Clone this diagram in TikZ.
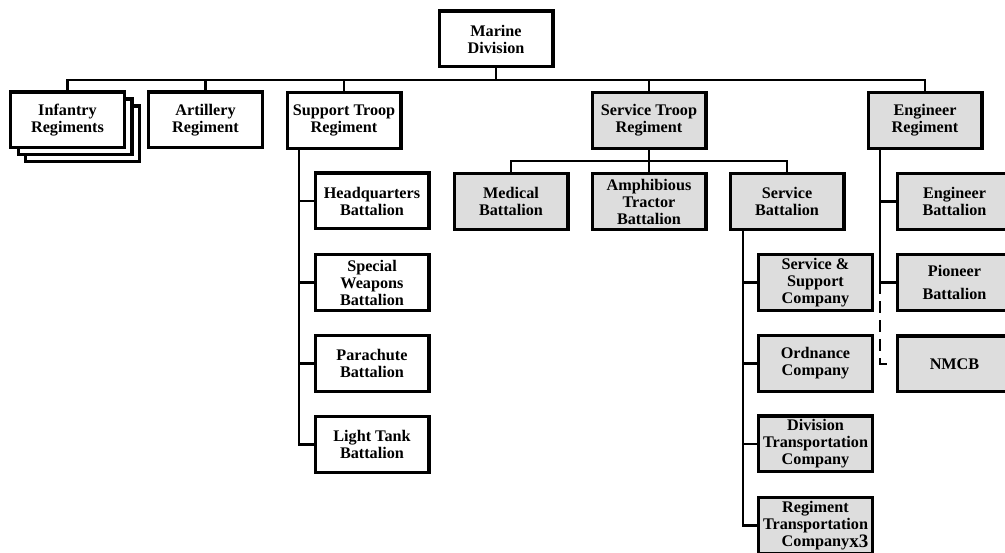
\documentclass[tikz,border=0pt]{standalone}
\usepackage{fontspec}
\setmainfont{Liberation Serif}
\definecolor{boxgray}{RGB}{221,221,221}
\begin{document}
\begin{tikzpicture}[x=1pt,y=-1pt,
  unit/.style={draw, line width=3.3pt, minimum width=113.7pt, minimum height=55.7pt,
    inner sep=0pt, align=center, fill=white,
    font=\bfseries\fontsize{16.2}{17}\selectfont},
  svc/.style={unit, fill=boxgray},
  link/.style={line width=2.9pt},
  optlink/.style={link, dash pattern=on 12pt off 7pt}]
\useasboundingbox (0,0) rectangle (1005,553);
\clip (0,0) rectangle (1005,553);

% division headquarters
\node[unit] (md) at (496,39) {Marine\\Division};

% regiments
\node[unit] (inf3) at (82.5,134) {};
\node[unit] (inf2) at (75,127) {};
\node[unit] (inf) at (67.5,120) {Infantry\\Regiments};
\node[unit] (art) at (205.5,120) {Artillery\\Regiment};
\node[unit] (stp) at (344,120.5) {Support Troop\\Regiment};
\node[svc]  (svt) at (649,120.5) {Service Troop\\Regiment};
\node[svc]  (eng) at (925,120.5) {Engineer\\Regiment};

% support troop battalions
\node[unit] (hq)   at (372,201)   {Headquarters\\Battalion};
\node[unit] (sw)   at (372,282.5) {Special\\Weapons\\Battalion};
\node[unit] (para) at (372,363.5) {Parachute\\Battalion};
\node[unit] (lt)   at (372,444.5) {Light Tank\\Battalion};

% service troop battalions
\node[svc] (med)  at (511,201.5) {Medical\\Battalion};
\node[svc] (amph) at (649,201.5) {Amphibious\\Tractor\\Battalion};
\node[svc] (sbn)  at (787,201.5) {Service\\Battalion};

% service battalion companies
\node[svc] (ss)  at (815.5,282.5) {Service \&\\Support\\Company};
\node[svc] (ord) at (815.5,363.5) {Ordnance\\Company};
\node[svc] (dt)  at (815.5,444)   {Division\\Transportation\\Company};
\node[svc] (rt)  at (815.5,525.5) {Regiment\\Transportation\\Company\rlap{\raisebox{-1.5pt}{\fontsize{19}{19}\selectfont x3}}};

% engineer units
\node[svc] (ebn)  at (954.5,201.5) {Engineer\\Battalion};
\node[svc] (pio)  at (954.5,282.5) {Pioneer\\[6pt]Battalion};
\node[svc] (nmcb) at (954.5,364)   {NMCB};

% connectors
\coordinate (bus) at (496,80);
\draw[link] (md.south) -- (bus);
\foreach \n in {inf,art,stp,svt,eng}
  \draw[link] (bus) -| (\n.north);

\coordinate (stpT) at (299,149);
\foreach \n in {hq,sw,para,lt}
  \draw[link] (stpT) |- (\n.west);

\coordinate (svbus) at (649,161);
\draw[link] (svt.south) -- (svbus);
\foreach \n in {med,amph,sbn}
  \draw[link] (svbus) -| (\n.north);

\coordinate (sbnT) at (743,230);
\foreach \n in {ss,ord,dt,rt}
  \draw[link] (sbnT) |- (\n.west);

\coordinate (engT) at (880,149);
\foreach \n in {ebn,pio}
  \draw[link] (engT) |- (\n.west);
\draw[optlink] (engT |- pio.west) |- ([xshift=-9pt]nmcb.west);
\end{tikzpicture}
\end{document}
